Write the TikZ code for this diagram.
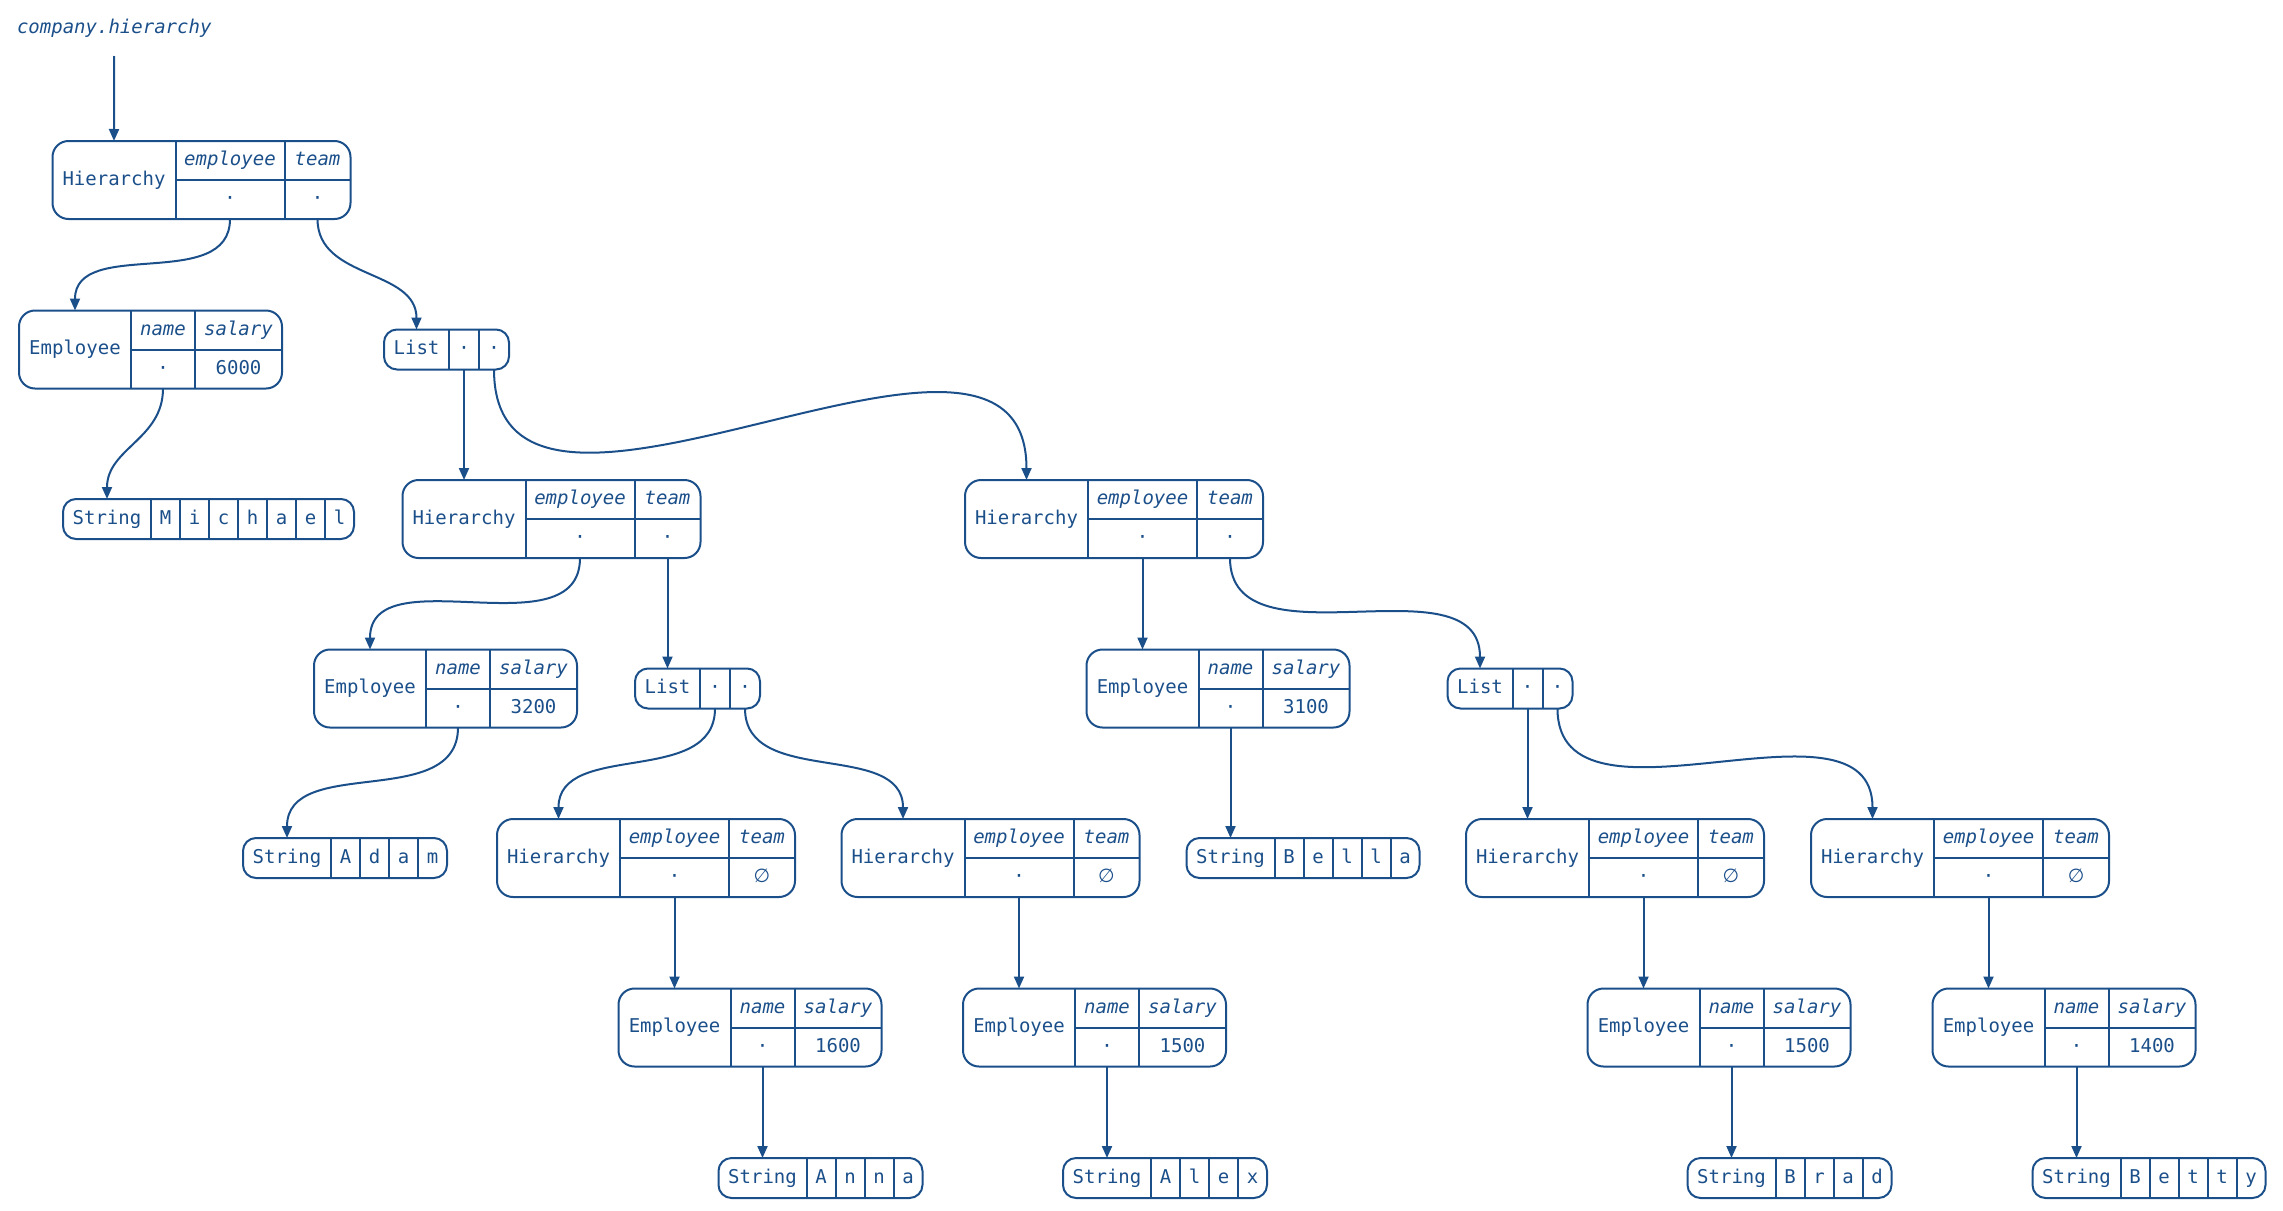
\documentclass[tikz,border=0pt]{standalone}
\usepackage{fontspec}
\setmainfont{DejaVu Sans Mono}[ItalicFont={DejaVu Sans Mono Oblique}]
\newfontfamily\symfont{DejaVu Sans}
\usetikzlibrary{arrows.meta,fit}
\definecolor{ink}{HTML}{1B4F8A}
\newcommand\nil{{\symfont ∅}}
\tikzset{
 line/.style={draw=ink, line width=2pt},
 box/.style={draw=ink, line width=2pt, rounded corners=16pt, inner sep=0pt, outer sep=0pt},
 sbox/.style={box, rounded corners=13pt},
 cell/.style={inner sep=0pt, outer sep=0pt, text=ink, text height=14pt, text depth=4pt, font=\fontsize{19}{22}\selectfont},
 hdr/.style={font=\fontsize{19}{22}\selectfont\itshape},
 conn/.style={draw=ink, line width=2pt, -{Triangle[length=12pt,width=10pt]}},
 curv/.style={out=-90, in=90, looseness=1.05},
}
\newcommand\hrec[5]{%
 \node[box, minimum width=298pt, minimum height=78pt, anchor=west] (#1) at (#2,#3) {};
 \node[cell, minimum width=123pt, minimum height=78pt, anchor=west] (#1t) at (#1.west) {Hierarchy};
 \node[cell, hdr, minimum width=109pt, minimum height=39pt, anchor=north west] (#1eh) at (#1t.north east) {employee};
 \node[cell, minimum width=109pt, minimum height=39pt, anchor=north west] (#1e) at (#1eh.south west) {#4};
 \node[cell, hdr, minimum width=66pt, minimum height=39pt, anchor=north west] (#1mh) at (#1eh.north east) {team};
 \node[cell, minimum width=66pt, minimum height=39pt, anchor=north west] (#1m) at (#1mh.south west) {#5};
 \draw[line] (#1t.north east) -- (#1t.south east)
   (#1eh.north east) -- (#1e.south east)
   (#1eh.south west) -- (#1mh.south east);
}
\newcommand\erec[5]{%
 \node[box, minimum width=263pt, minimum height=78pt, anchor=west] (#1) at (#2,#3) {};
 \node[cell, minimum width=112pt, minimum height=78pt, anchor=west] (#1t) at (#1.west) {Employee};
 \node[cell, hdr, minimum width=64pt, minimum height=39pt, anchor=north west] (#1nh) at (#1t.north east) {name};
 \node[cell, minimum width=64pt, minimum height=39pt, anchor=north west] (#1n) at (#1nh.south west) {#4};
 \node[cell, hdr, minimum width=87pt, minimum height=39pt, anchor=north west] (#1sh) at (#1nh.north east) {salary};
 \node[cell, minimum width=87pt, minimum height=39pt, anchor=north west] (#1s) at (#1sh.south west) {#5};
 \draw[line] (#1t.north east) -- (#1t.south east)
   (#1nh.north east) -- (#1n.south east)
   (#1nh.south west) -- (#1sh.south east);
}
\newcommand\lrec[3]{%
 \node[sbox, minimum width=125pt, minimum height=40pt, anchor=west] (#1) at (#2,#3) {};
 \node[cell, minimum width=65pt, minimum height=40pt, anchor=west] (#1t) at (#1.west) {List};
 \node[cell, minimum width=30pt, minimum height=40pt, anchor=west] (#1a) at (#1t.east) {·};
 \node[cell, minimum width=30pt, minimum height=40pt, anchor=west] (#1b) at (#1a.east) {·};
 \draw[line] (#1t.north east) -- (#1t.south east) (#1a.north east) -- (#1a.south east);
}
\newcommand\srec[5]{%
 \node[cell, minimum width=88pt, minimum height=40pt, anchor=west, alias=#1-0] (#1t) at (#2,#3) {String};
 \foreach \c [count=\i, remember=\i as \j (initially 0)] in {#5} {
   \node[cell, minimum width=29pt, minimum height=40pt, anchor=west] (#1-\i) at (#1-\j.east) {\c};
   \draw[line] (#1-\i.north west) -- (#1-\i.south west);
 }
 \node[sbox, fit=(#1t)(#1-#4)] (#1) {};
}
\begin{document}
\begin{tikzpicture}[x=1pt, y=-1pt]
\useasboundingbox (0,0) rectangle (2283,1210);
\node[cell, hdr, anchor=base west] (lbl) at (17,33) {company.hierarchy};
\coordinate (lblfoot) at ([yshift=-19pt]lbl.south);

\hrec{h0}{52.5}{180}{·}{·}
\erec{e0}{19}{349.5}{·}{6000}
\lrec{l0}{384}{349.5}
\srec{s0}{63}{519}{7}{M,i,c,h,a,e,l}
\hrec{h1}{402.5}{519}{·}{·}
\hrec{h2}{965}{519}{·}{·}
\erec{e1}{314}{688.5}{·}{3200}
\lrec{l1}{635}{688.5}
\erec{e2}{1086.5}{688.5}{·}{3100}
\lrec{l2}{1447.5}{688.5}
\srec{s1}{243}{858}{4}{A,d,a,m}
\hrec{h3}{497}{858}{·}{\nil}
\hrec{h4}{841.5}{858}{·}{\nil}
\srec{s2}{1186.5}{858}{5}{B,e,l,l,a}
\hrec{h5}{1466}{858}{·}{\nil}
\hrec{h6}{1811}{858}{·}{\nil}
\erec{e3}{618.5}{1027.5}{·}{1600}
\erec{e4}{963}{1027.5}{·}{1500}
\erec{e5}{1587.5}{1027.5}{·}{1500}
\erec{e6}{1932.5}{1027.5}{·}{1400}
\srec{s3}{718.5}{1178}{4}{A,n,n,a}
\srec{s4}{1063}{1178}{4}{A,l,e,x}
\srec{s5}{1687.5}{1178}{4}{B,r,a,d}
\srec{s6}{2032.5}{1178}{5}{B,e,t,t,y}

\draw[conn] (lblfoot) -- (h0t.north);
\draw[conn] (h0e.south) to[curv] (e0t.north);
\draw[conn] (h0m.south) to[curv] (l0t.north);
\draw[conn] (e0n.south) to[curv] (s0t.north);
\draw[conn] (l0a.south) -- (h1t.north);
\draw[conn] (l0b.south) to[curv, looseness=1.1] (h2t.north);
\draw[conn] (h1e.south) to[curv] (e1t.north);
\draw[conn] (h1m.south) -- (l1t.north);
\draw[conn] (h2e.south) -- (e2t.north);
\draw[conn] (h2m.south) to[curv] (l2t.north);
\draw[conn] (e1n.south) to[curv] (s1t.north);
\draw[conn] (l1a.south) to[curv] (h3t.north);
\draw[conn] (l1b.south) to[curv] (h4t.north);
\draw[conn] (e2n.south) -- (s2t.north);
\draw[conn] (l2a.south) -- (h5t.north);
\draw[conn] (l2b.south) to[curv] (h6t.north);
\draw[conn] (h3e.south) -- (e3t.north);
\draw[conn] (h4e.south) -- (e4t.north);
\draw[conn] (h5e.south) -- (e5t.north);
\draw[conn] (h6e.south) -- (e6t.north);
\draw[conn] (e3n.south) -- (s3t.north);
\draw[conn] (e4n.south) -- (s4t.north);
\draw[conn] (e5n.south) -- (s5t.north);
\draw[conn] (e6n.south) -- (s6t.north);
\end{tikzpicture}
\end{document}
